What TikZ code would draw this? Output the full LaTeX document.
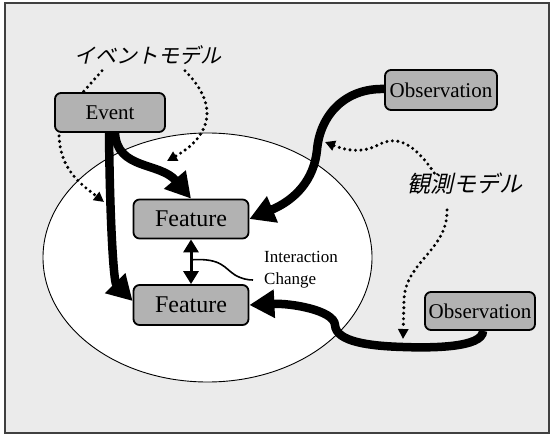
\documentclass[tikz,border=0pt]{standalone}
\usepackage{fontspec}
\setmainfont{Liberation Serif}
\newfontfamily\jpfont[FakeSlant=0.22]{Noto Sans CJK JP}
\usetikzlibrary{arrows.meta,calc}
\begin{document}
\begin{tikzpicture}[x=1pt,y=-1pt,
  box/.style={draw=black, line width=1.8pt, rounded corners=6pt, fill=black!30, inner sep=1pt, font=\fontsize{21}{24}\selectfont},
  featbox/.style={box, minimum width=115pt, minimum height=39pt, font=\fontsize{24}{28}\selectfont},
  thickarrow/.style={line width=8.5pt, -{Triangle[length=25pt,width=27pt]}},
  dblarrow/.style={line width=3pt, {Triangle[length=13pt,width=15pt]}-{Triangle[length=13pt,width=15pt]}},
  dotline/.style={line width=3.4pt, line cap=round, dash pattern=on 0pt off 5.5pt},
  dotarrow/.style={dotline, -{Triangle[length=10pt,width=10pt]}},
  jplabel/.style={font=\jpfont\fontsize{#1}{#1}\selectfont, inner sep=0pt}
]
\useasboundingbox (0,0) rectangle (551,436);
\draw[line width=1.5pt, draw=black!75, fill=black!8] (5,3) rectangle (549,433);
\draw[line width=0.9pt, fill=white] (207.5,257.5) ellipse [x radius=164.5pt, y radius=124.5pt];

% nodes
\node[box, minimum width=110pt, minimum height=39pt] (ev) at (110,112.5) {Event};
\node[box, minimum width=112pt, minimum height=40pt] (ob1) at (441,90) {Observation};
\node[box, minimum width=110pt, minimum height=38pt] (ob2) at (480,311) {Observation};
\node[featbox] (f1) at (191,219) {Feature};
\node[featbox, minimum height=40pt] (f2) at (191,305) {Feature};
\node[jplabel=21] (em) at (148,55) {イベントモデル};
\node[jplabel=23] (om) at (465,184) {観測モデル};
\node[font=\fontsize{17}{22}\selectfont, align=left, anchor=west, inner sep=0pt] (ic) at (264,270) {Interaction\\Change};

% free ends of dotted arrows
\coordinate (t1) at (167,161);
\coordinate (t2) at (104,202);
\coordinate (t3) at (325,142);
\coordinate (t4) at (403,339);

% thick connectors
\draw[thickarrow] ([xshift=-1pt]ev.south) .. controls (110,230) and (114,282) .. ($(f2.west)+(0,-4)$);
\draw[thickarrow] ([xshift=5pt]ev.south) .. controls (117,170) and (160,162) .. (f1.north);
\draw[thickarrow] ($(ob1.west)+(0,-1)$) .. controls (345,88) and (320,115) .. (317,150) .. controls (314,180) and (295,200) .. (f1.east);
\draw[thickarrow] ($(ob2.south)+(3,0)$) .. controls (483,348) and (430,348) .. (403,347) .. controls (370,346) and (336,342) .. (335,325) .. controls (334,310) and (290,303) .. (f2.east);

% interaction
\draw[dblarrow] (f1.south) -- (f2.north);
\coordinate (mid) at ($(f1.south)!0.5!(f2.north)$);
\draw[line width=1.6pt] ($(mid)+(1,-2)$) .. controls (222,258) and (224,268) .. (235,275) .. controls (242,279) and (248,280) .. ($(ic.west)+(-11,10)$);

% dotted connectors
\draw[dotline] ($(em.south)+(-46,6)$) -- ($(ev.north west)+(29,0)$);
\draw[dotarrow] ($(em.south)+(37,6)$) .. controls (222,108) and (208,138) .. (t1);
\draw[dotarrow] ($(ev.south west)+(5,3)$) .. controls (60,170) and (82,185) .. (t2);
\draw[dotarrow] ($(om.north west)+(27,0)$) .. controls (412,140) and (395,136) .. (378,145) .. controls (365,152) and (350,152) .. (t3);
\draw[dotarrow] ($(om.south)+(-18,15)$) .. controls (448,250) and (405,262) .. (404,300) -- (t4);
\end{tikzpicture}
\end{document}
